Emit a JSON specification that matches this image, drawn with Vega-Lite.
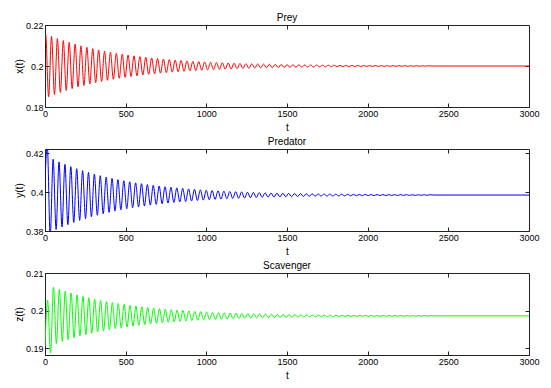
{
"$schema": "https://vega.github.io/schema/vega-lite/v6.json",
"padding": {"left": 13, "top": 12, "right": 5, "bottom": 0},
"config": {
 "view": {"stroke": "#222", "strokeWidth": 1},
 "font": "Liberation Sans",
 "axis": {"labelFont": "Liberation Sans", "labelFontSize": 9, "labelColor": "#000", "titleFont": "Liberation Sans", "titleFontSize": 10, "titleFontWeight": "normal", "titleColor": "#000", "domainColor": "#222", "tickColor": "#222", "grid": false, "tickSize": -4, "labelPadding": 6, "labelFlush": false},
 "axisX": {"titlePadding": 4},
 "axisY": {"titlePadding": 1},
 "title": {"font": "Liberation Sans", "fontSize": 10, "fontWeight": "normal", "color": "#000", "offset": -2, "anchor": "middle"},
 "concat": {"spacing": 3}
},
"datasets": {
"prey": [
{"t":0,"v":0.215},{"t":4,"v":0.2156},{"t":22.25,"v":0.18499},{"t":40.5,"v":0.21445},{"t":58.75,"v":0.18609},{"t":77,"v":0.21338},{"t":95.25,"v":0.18712},{"t":113.5,"v":0.2124},{"t":131.75,"v":0.18807},{"t":150,"v":0.21148},{"t":168.25,"v":0.18895},{"t":186.5,"v":0.21063},{"t":204.75,"v":0.18977},{"t":223,"v":0.20985},{"t":241.25,"v":0.19052},{"t":259.5,"v":0.20912},{"t":277.75,"v":0.19122},{"t":296,"v":0.20845},{"t":314.25,"v":0.19187},{"t":332.5,"v":0.20783},{"t":350.75,"v":0.19247},{"t":369,"v":0.20725},{"t":387.25,"v":0.19302},{"t":405.5,"v":0.20671},{"t":423.75,"v":0.19354},{"t":442,"v":0.20622},{"t":460.25,"v":0.19402},{"t":478.5,"v":0.20576},{"t":496.75,"v":0.19446},{"t":515,"v":0.20534},{"t":533.25,"v":0.19487},{"t":551.5,"v":0.20494},{"t":569.75,"v":0.19525},{"t":588,"v":0.20458},{"t":606.25,"v":0.1956},{"t":624.5,"v":0.20424},{"t":642.75,"v":0.19592},{"t":661,"v":0.20393},{"t":679.25,"v":0.19622},{"t":697.5,"v":0.20364},{"t":715.75,"v":0.1965},{"t":734,"v":0.20337},{"t":752.25,"v":0.19676},{"t":770.5,"v":0.20312},{"t":788.75,"v":0.197},{"t":807,"v":0.20289},{"t":825.25,"v":0.19722},{"t":843.5,"v":0.20268},{"t":861.75,"v":0.19742},{"t":880,"v":0.20248},{"t":898.25,"v":0.19761},{"t":916.5,"v":0.20229},{"t":934.75,"v":0.19779},{"t":953,"v":0.20213},{"t":971.25,"v":0.19795},{"t":989.5,"v":0.20197},{"t":1007.75,"v":0.1981},{"t":1026,"v":0.20182},{"t":1044.25,"v":0.19824},{"t":1062.5,"v":0.20169},{"t":1080.75,"v":0.19837},{"t":1099,"v":0.20156},{"t":1117.25,"v":0.19849},{"t":1135.5,"v":0.20145},{"t":1153.75,"v":0.19861},{"t":1172,"v":0.20134},{"t":1190.25,"v":0.19871},{"t":1208.5,"v":0.20124},{"t":1226.75,"v":0.1988},{"t":1245,"v":0.20115},{"t":1263.25,"v":0.19889},{"t":1281.5,"v":0.20107},{"t":1299.75,"v":0.19897},{"t":1318,"v":0.20099},{"t":1336.25,"v":0.19905},{"t":1354.5,"v":0.20091},{"t":1372.75,"v":0.19912},{"t":1391,"v":0.20085},{"t":1409.25,"v":0.19918},{"t":1427.5,"v":0.20078},{"t":1445.75,"v":0.19924},{"t":1464,"v":0.20073},{"t":1482.25,"v":0.1993},{"t":1500.5,"v":0.20067},{"t":1518.75,"v":0.19935},{"t":1537,"v":0.20062},{"t":1555.25,"v":0.1994},{"t":1573.5,"v":0.20058},{"t":1591.75,"v":0.19944},{"t":1610,"v":0.20054},{"t":1628.25,"v":0.19949},{"t":1646.5,"v":0.20049},{"t":1664.75,"v":0.19952},{"t":1683,"v":0.20046},{"t":1701.25,"v":0.19956},{"t":1719.5,"v":0.20042},{"t":1737.75,"v":0.19959},{"t":1756,"v":0.20039},{"t":1774.25,"v":0.19962},{"t":1792.5,"v":0.20037},{"t":1810.75,"v":0.19965},{"t":1829,"v":0.20034},{"t":1847.25,"v":0.19968},{"t":1865.5,"v":0.20031},{"t":1883.75,"v":0.1997},{"t":1902,"v":0.20029},{"t":1920.25,"v":0.19972},{"t":1938.5,"v":0.20027},{"t":1956.75,"v":0.19974},{"t":1975,"v":0.20025},{"t":1993.25,"v":0.19976},{"t":2011.5,"v":0.20023},{"t":2029.75,"v":0.19978},{"t":2048,"v":0.20021},{"t":2066.25,"v":0.1998},{"t":2084.5,"v":0.2002},{"t":2102.75,"v":0.19981},{"t":2121,"v":0.20018},{"t":2139.25,"v":0.19983},{"t":2157.5,"v":0.20017},{"t":2175.75,"v":0.19984},{"t":2194,"v":0.20016},{"t":2212.25,"v":0.19985},{"t":2230.5,"v":0.20015},{"t":2248.75,"v":0.19986},{"t":2267,"v":0.20013},{"t":2285.25,"v":0.19987},{"t":2303.5,"v":0.20012},{"t":2321.75,"v":0.19988},{"t":2340,"v":0.20012},{"t":2358.25,"v":0.19989},{"t":2376.5,"v":0.20011},{"t":2400,"v":0.2},{"t":3000,"v":0.2}
],
"pred": [
{"t":0,"v":0.405},{"t":14,"v":0.4245},{"t":32.25,"v":0.3775},{"t":50.5,"v":0.41693},{"t":68.75,"v":0.38076},{"t":87,"v":0.41557},{"t":105.25,"v":0.38207},{"t":123.5,"v":0.41431},{"t":141.75,"v":0.38328},{"t":160,"v":0.41315},{"t":178.25,"v":0.3844},{"t":196.5,"v":0.41207},{"t":214.75,"v":0.38545},{"t":233,"v":0.41106},{"t":251.25,"v":0.38641},{"t":269.5,"v":0.41014},{"t":287.75,"v":0.3873},{"t":306,"v":0.40928},{"t":324.25,"v":0.38813},{"t":342.5,"v":0.40848},{"t":360.75,"v":0.38889},{"t":379,"v":0.40775},{"t":397.25,"v":0.3896},{"t":415.5,"v":0.40706},{"t":433.75,"v":0.39026},{"t":452,"v":0.40643},{"t":470.25,"v":0.39087},{"t":488.5,"v":0.40585},{"t":506.75,"v":0.39143},{"t":525,"v":0.40531},{"t":543.25,"v":0.39195},{"t":561.5,"v":0.4048},{"t":579.75,"v":0.39243},{"t":598,"v":0.40434},{"t":616.25,"v":0.39288},{"t":634.5,"v":0.40391},{"t":652.75,"v":0.3933},{"t":671,"v":0.40351},{"t":689.25,"v":0.39368},{"t":707.5,"v":0.40314},{"t":725.75,"v":0.39404},{"t":744,"v":0.4028},{"t":762.25,"v":0.39436},{"t":780.5,"v":0.40248},{"t":798.75,"v":0.39467},{"t":817,"v":0.40219},{"t":835.25,"v":0.39495},{"t":853.5,"v":0.40191},{"t":871.75,"v":0.39521},{"t":890,"v":0.40166},{"t":908.25,"v":0.39546},{"t":926.5,"v":0.40143},{"t":944.75,"v":0.39568},{"t":963,"v":0.40121},{"t":981.25,"v":0.39589},{"t":999.5,"v":0.40101},{"t":1017.75,"v":0.39608},{"t":1036,"v":0.40083},{"t":1054.25,"v":0.39626},{"t":1072.5,"v":0.40066},{"t":1090.75,"v":0.39643},{"t":1109,"v":0.4005},{"t":1127.25,"v":0.39658},{"t":1145.5,"v":0.40035},{"t":1163.75,"v":0.39672},{"t":1182,"v":0.40021},{"t":1200.25,"v":0.39685},{"t":1218.5,"v":0.40009},{"t":1236.75,"v":0.39697},{"t":1255,"v":0.39997},{"t":1273.25,"v":0.39709},{"t":1291.5,"v":0.39986},{"t":1309.75,"v":0.39719},{"t":1328,"v":0.39976},{"t":1346.25,"v":0.39729},{"t":1364.5,"v":0.39967},{"t":1382.75,"v":0.39738},{"t":1401,"v":0.39958},{"t":1419.25,"v":0.39746},{"t":1437.5,"v":0.3995},{"t":1455.75,"v":0.39754},{"t":1474,"v":0.39943},{"t":1492.25,"v":0.39761},{"t":1510.5,"v":0.39936},{"t":1528.75,"v":0.39767},{"t":1547,"v":0.3993},{"t":1565.25,"v":0.39773},{"t":1583.5,"v":0.39924},{"t":1601.75,"v":0.39779},{"t":1620,"v":0.39918},{"t":1638.25,"v":0.39784},{"t":1656.5,"v":0.39913},{"t":1674.75,"v":0.39789},{"t":1693,"v":0.39909},{"t":1711.25,"v":0.39794},{"t":1729.5,"v":0.39904},{"t":1747.75,"v":0.39798},{"t":1766,"v":0.399},{"t":1784.25,"v":0.39802},{"t":1802.5,"v":0.39897},{"t":1820.75,"v":0.39805},{"t":1839,"v":0.39893},{"t":1857.25,"v":0.39809},{"t":1875.5,"v":0.3989},{"t":1893.75,"v":0.39812},{"t":1912,"v":0.39887},{"t":1930.25,"v":0.39815},{"t":1948.5,"v":0.39884},{"t":1966.75,"v":0.39817},{"t":1985,"v":0.39882},{"t":2003.25,"v":0.3982},{"t":2021.5,"v":0.39879},{"t":2039.75,"v":0.39822},{"t":2058,"v":0.39877},{"t":2076.25,"v":0.39824},{"t":2094.5,"v":0.39875},{"t":2112.75,"v":0.39826},{"t":2131,"v":0.39873},{"t":2149.25,"v":0.39828},{"t":2167.5,"v":0.39871},{"t":2185.75,"v":0.39829},{"t":2204,"v":0.3987},{"t":2222.25,"v":0.39831},{"t":2240.5,"v":0.39869},{"t":2258.75,"v":0.39832},{"t":2277,"v":0.39867},{"t":2295.25,"v":0.39833},{"t":2313.5,"v":0.39866},{"t":2331.75,"v":0.39835},{"t":2350,"v":0.39865},{"t":2368.25,"v":0.39836},{"t":2386.5,"v":0.39864},{"t":2410,"v":0.3985},{"t":3000,"v":0.3985}
],
"scav": [
{"t":0,"v":0.1905},{"t":16,"v":0.2028},{"t":34.25,"v":0.1887},{"t":52.5,"v":0.20621},{"t":70.75,"v":0.19127},{"t":89,"v":0.20565},{"t":107.25,"v":0.19181},{"t":125.5,"v":0.20513},{"t":143.75,"v":0.19231},{"t":162,"v":0.20465},{"t":180.25,"v":0.19278},{"t":198.5,"v":0.2042},{"t":216.75,"v":0.19321},{"t":235,"v":0.20379},{"t":253.25,"v":0.19361},{"t":271.5,"v":0.20341},{"t":289.75,"v":0.19397},{"t":308,"v":0.20305},{"t":326.25,"v":0.19431},{"t":344.5,"v":0.20272},{"t":362.75,"v":0.19463},{"t":381,"v":0.20242},{"t":399.25,"v":0.19492},{"t":417.5,"v":0.20214},{"t":435.75,"v":0.1952},{"t":454,"v":0.20188},{"t":472.25,"v":0.19545},{"t":490.5,"v":0.20163},{"t":508.75,"v":0.19568},{"t":527,"v":0.20141},{"t":545.25,"v":0.19589},{"t":563.5,"v":0.2012},{"t":581.75,"v":0.19609},{"t":600,"v":0.20101},{"t":618.25,"v":0.19628},{"t":636.5,"v":0.20083},{"t":654.75,"v":0.19645},{"t":673,"v":0.20067},{"t":691.25,"v":0.19661},{"t":709.5,"v":0.20052},{"t":727.75,"v":0.19676},{"t":746,"v":0.20037},{"t":764.25,"v":0.19689},{"t":782.5,"v":0.20024},{"t":800.75,"v":0.19702},{"t":819,"v":0.20012},{"t":837.25,"v":0.19714},{"t":855.5,"v":0.20001},{"t":873.75,"v":0.19724},{"t":892,"v":0.19991},{"t":910.25,"v":0.19734},{"t":928.5,"v":0.19981},{"t":946.75,"v":0.19744},{"t":965,"v":0.19972},{"t":983.25,"v":0.19752},{"t":1001.5,"v":0.19964},{"t":1019.75,"v":0.1976},{"t":1038,"v":0.19956},{"t":1056.25,"v":0.19768},{"t":1074.5,"v":0.19949},{"t":1092.75,"v":0.19774},{"t":1111,"v":0.19942},{"t":1129.25,"v":0.19781},{"t":1147.5,"v":0.19936},{"t":1165.75,"v":0.19787},{"t":1184,"v":0.19931},{"t":1202.25,"v":0.19792},{"t":1220.5,"v":0.19926},{"t":1238.75,"v":0.19797},{"t":1257,"v":0.19921},{"t":1275.25,"v":0.19802},{"t":1293.5,"v":0.19916},{"t":1311.75,"v":0.19806},{"t":1330,"v":0.19912},{"t":1348.25,"v":0.1981},{"t":1366.5,"v":0.19908},{"t":1384.75,"v":0.19814},{"t":1403,"v":0.19905},{"t":1421.25,"v":0.19817},{"t":1439.5,"v":0.19901},{"t":1457.75,"v":0.1982},{"t":1476,"v":0.19898},{"t":1494.25,"v":0.19823},{"t":1512.5,"v":0.19895},{"t":1530.75,"v":0.19826},{"t":1549,"v":0.19893},{"t":1567.25,"v":0.19828},{"t":1585.5,"v":0.1989},{"t":1603.75,"v":0.19831},{"t":1622,"v":0.19888},{"t":1640.25,"v":0.19833},{"t":1658.5,"v":0.19886},{"t":1676.75,"v":0.19835},{"t":1695,"v":0.19884},{"t":1713.25,"v":0.19837},{"t":1731.5,"v":0.19882},{"t":1749.75,"v":0.19838},{"t":1768,"v":0.19881},{"t":1786.25,"v":0.1984},{"t":1804.5,"v":0.19879},{"t":1822.75,"v":0.19842},{"t":1841,"v":0.19878},{"t":1859.25,"v":0.19843},{"t":1877.5,"v":0.19876},{"t":1895.75,"v":0.19844},{"t":1914,"v":0.19875},{"t":1932.25,"v":0.19845},{"t":1950.5,"v":0.19874},{"t":1968.75,"v":0.19846},{"t":1987,"v":0.19873},{"t":2005.25,"v":0.19847},{"t":2023.5,"v":0.19872},{"t":2041.75,"v":0.19848},{"t":2060,"v":0.19871},{"t":2078.25,"v":0.19849},{"t":2096.5,"v":0.1987},{"t":2114.75,"v":0.1985},{"t":2133,"v":0.1987},{"t":2151.25,"v":0.19851},{"t":2169.5,"v":0.19869},{"t":2187.75,"v":0.19852},{"t":2206,"v":0.19868},{"t":2224.25,"v":0.19852},{"t":2242.5,"v":0.19868},{"t":2260.75,"v":0.19853},{"t":2279,"v":0.19867},{"t":2297.25,"v":0.19853},{"t":2315.5,"v":0.19867},{"t":2333.75,"v":0.19854},{"t":2352,"v":0.19866},{"t":2370.25,"v":0.19854},{"t":2388.5,"v":0.19866},{"t":2412,"v":0.1986},{"t":3000,"v":0.1986}
]
},
"vconcat": [
{
 "width": 484, "height": 82,
 "title": "Prey",
 "data": {"name": "prey"},
 "layer": [
  {"mark": {"type": "line", "color": "#ff0000", "strokeWidth": 1, "interpolate": "monotone", "clip": true},
   "encoding": {
    "x": {"field": "t", "type": "quantitative", "scale": {"domain": [0, 3000], "nice": false}, "axis": {"title": "t", "values": [0, 500, 1000, 1500, 2000, 2500, 3000], "format": "d"}},
    "y": {"field": "v", "type": "quantitative", "scale": {"domain": [0.18, 0.22], "nice": false, "zero": false}, "axis": {"title": "x(t)", "values": [0.18, 0.2, 0.22], "format": "~g"}}
   }},
  {"mark": {"type": "line", "opacity": 0},
   "encoding": {
    "x": {"field": "t", "type": "quantitative", "axis": {"orient": "top", "labels": false, "title": null, "domain": false, "values": [500, 1000, 1500, 2000, 2500]}},
    "y": {"field": "v", "type": "quantitative", "axis": {"orient": "right", "labels": false, "title": null, "domain": false, "values": [0.2]}}
   }}
 ],
 "resolve": {"axis": {"x": "independent", "y": "independent"}}
},
{
 "width": 484, "height": 82,
 "title": "Predator",
 "data": {"name": "pred"},
 "layer": [
  {"mark": {"type": "line", "color": "#0000ff", "strokeWidth": 1, "interpolate": "monotone", "clip": true},
   "encoding": {
    "x": {"field": "t", "type": "quantitative", "scale": {"domain": [0, 3000], "nice": false}, "axis": {"title": "t", "values": [0, 500, 1000, 1500, 2000, 2500, 3000], "format": "d"}},
    "y": {"field": "v", "type": "quantitative", "scale": {"domain": [0.38, 0.4222], "nice": false, "zero": false}, "axis": {"title": "y(t)", "values": [0.38, 0.4, 0.42], "format": "~g"}}
   }},
  {"mark": {"type": "line", "opacity": 0},
   "encoding": {
    "x": {"field": "t", "type": "quantitative", "axis": {"orient": "top", "labels": false, "title": null, "domain": false, "values": [500, 1000, 1500, 2000, 2500]}},
    "y": {"field": "v", "type": "quantitative", "axis": {"orient": "right", "labels": false, "title": null, "domain": false, "values": [0.4, 0.42]}}
   }}
 ],
 "resolve": {"axis": {"x": "independent", "y": "independent"}}
},
{
 "width": 484, "height": 82,
 "title": "Scavenger",
 "data": {"name": "scav"},
 "layer": [
  {"mark": {"type": "line", "color": "#00ff00", "strokeWidth": 1, "interpolate": "monotone", "clip": true},
   "encoding": {
    "x": {"field": "t", "type": "quantitative", "scale": {"domain": [0, 3000], "nice": false}, "axis": {"title": "t", "values": [0, 500, 1000, 1500, 2000, 2500, 3000], "format": "d"}},
    "y": {"field": "v", "type": "quantitative", "scale": {"domain": [0.1882, 0.21], "nice": false, "zero": false}, "axis": {"title": "z(t)", "values": [0.19, 0.2, 0.21], "format": "~g"}}
   }},
  {"mark": {"type": "line", "opacity": 0},
   "encoding": {
    "x": {"field": "t", "type": "quantitative", "axis": {"orient": "top", "labels": false, "title": null, "domain": false, "values": [500, 1000, 1500, 2000, 2500]}},
    "y": {"field": "v", "type": "quantitative", "axis": {"orient": "right", "labels": false, "title": null, "domain": false, "values": [0.19, 0.2]}}
   }}
 ],
 "resolve": {"axis": {"x": "independent", "y": "independent"}}
}
]
}
